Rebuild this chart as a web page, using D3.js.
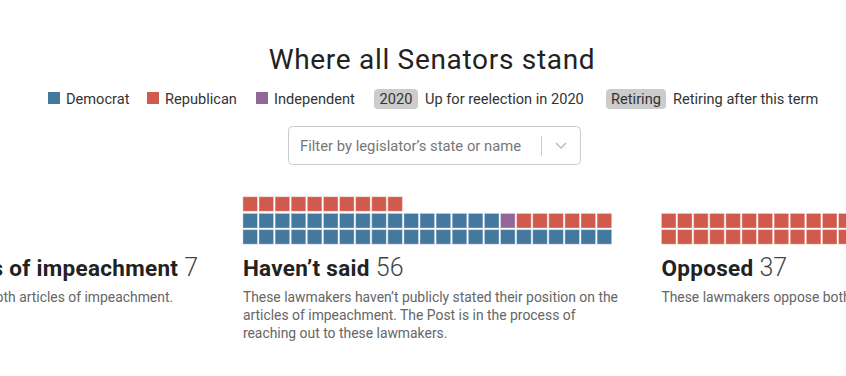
<!DOCTYPE html>
<html>
<head>
<meta charset="utf-8">
<script src="https://cdn.jsdelivr.net/npm/d3@7"></script>
<style>
  html, body { margin: 0; padding: 0; background: #fff; }
  svg { display: block; font-family: Roboto, "Noto Sans", sans-serif; }
</style>
</head>
<body>
<svg class="view" width="846" height="376"></svg>
<script>
// data
var groups = ['Supports articles of impeachment', 'Haven\u2019t said', 'Opposed'];
var democrats = [7, 39, 0];
var independents = [0, 1, 0];
var republicans = [0, 16, 37];
var descriptions = [
    ['These lawmakers support both articles of impeachment.'],
    ['These lawmakers haven\u2019t publicly stated their position on the',
     'articles of impeachment. The Post is in the process of',
     'reaching out to these lawmakers.'],
    ['These lawmakers oppose both articles of impeachment.']
];
var parties = ['Democrat', 'Republican', 'Independent'];
var badges = [['2020', 'Up for reelection in 2020'], ['Retiring', 'Retiring after this term']];

var svg = d3.select('.view');

var color = d3.scaleOrdinal()
    .domain(parties)
    .range(['#44799f', '#d05b4d', '#94679a']);

var perRow = 23;
var groupX = d3.scaleLinear().domain([0, 2]).range([-175.6, 661.4]);
var colX = d3.scaleLinear().domain([0, perRow]).range([0, 370.3]);
var rowY = d3.scaleLinear().domain([0, 1]).range([229.6, 213.4]);
var cell = 14.6;

// title
svg.append('text')
    .attr('x', 432)
    .attr('y', 69)
    .attr('text-anchor', 'middle')
    .attr('font-size', 28)
    .attr('letter-spacing', 0.7)
    .attr('fill', '#222')
    .text('Where all Senators stand');

// legend
var legend = svg.append('g').attr('font-size', 14.6).attr('fill', '#333');
var swatchX = [48, 147, 256];
parties.forEach(function (p, i) {
    legend.append('rect')
        .attr('x', swatchX[i]).attr('y', 92)
        .attr('width', 12).attr('height', 12)
        .attr('fill', color(p));
    legend.append('text')
        .attr('x', swatchX[i] + 18).attr('y', 104)
        .text(p);
});
var badgeX = [374, 606], badgeW = [44, 60];
badges.forEach(function (b, i) {
    legend.append('rect')
        .attr('x', badgeX[i]).attr('y', 89)
        .attr('width', badgeW[i]).attr('height', 20)
        .attr('rx', 4)
        .attr('fill', '#ccc');
    legend.append('text')
        .attr('x', badgeX[i] + badgeW[i] / 2).attr('y', 104)
        .attr('text-anchor', 'middle')
        .text(b[0]);
    legend.append('text')
        .attr('x', badgeX[i] + badgeW[i] + 7).attr('y', 104)
        .text(b[1]);
});

// filter box
var filter = svg.append('g');
filter.append('rect')
    .attr('x', 288.5).attr('y', 126.5)
    .attr('width', 292).attr('height', 38)
    .attr('rx', 4)
    .attr('fill', '#fff')
    .attr('stroke', '#ccc');
filter.append('text')
    .attr('x', 300).attr('y', 151)
    .attr('font-size', 14.8)
    .attr('fill', '#777')
    .text('Filter by legislator\u2019s state or name');
filter.append('line')
    .attr('x1', 541.5).attr('x2', 541.5)
    .attr('y1', 136).attr('y2', 156)
    .attr('stroke', '#ccc');
filter.append('path')
    .attr('d', 'M556,143 L561,148 L566,143')
    .attr('fill', 'none')
    .attr('stroke', '#bbb')
    .attr('stroke-width', 1.5);

// grids
groups.forEach(function (g, gi) {
    var seats = [];
    d3.range(democrats[gi]).forEach(function () { seats.push('Democrat'); });
    d3.range(independents[gi]).forEach(function () { seats.push('Independent'); });
    d3.range(republicans[gi]).forEach(function () { seats.push('Republican'); });

    var group = svg.append('g')
        .attr('transform', 'translate(' + groupX(gi) + ',0)');

    group.selectAll('rect')
        .data(seats)
        .enter().append('rect')
        .attr('x', function (d, i) { return colX(i % perRow); })
        .attr('y', function (d, i) { return rowY(Math.floor(i / perRow)) - (Math.floor(i / perRow) > 1 ? 0.5 : 0); })
        .attr('width', cell)
        .attr('height', cell)
        .attr('fill', function (d) { return color(d); })
        .attr('stroke', '#fff')
        .attr('stroke-opacity', 0.35)
        .attr('stroke-width', 1);

    var title = group.append('text')
        .attr('x', 0).attr('y', 276)
        .attr('fill', '#222');
    title.append('tspan')
        .attr('font-size', 22.5)
        .attr('font-weight', 700)
        .attr('letter-spacing', 0.3)
        .text(g);
    title.append('tspan')
        .attr('font-size', 25)
        .attr('fill', '#444')
        .attr('font-weight', 300)
        .text(' ' + seats.length);

    group.selectAll('.desc')
        .data(descriptions[gi])
        .enter().append('text')
        .attr('class', 'desc')
        .attr('x', 0)
        .attr('y', function (d, i) { return 302 + i * 18; })
        .attr('font-size', 13.9)
        .attr('fill', '#666')
        .text(function (d) { return d; });
});
</script>
</body>
</html>
